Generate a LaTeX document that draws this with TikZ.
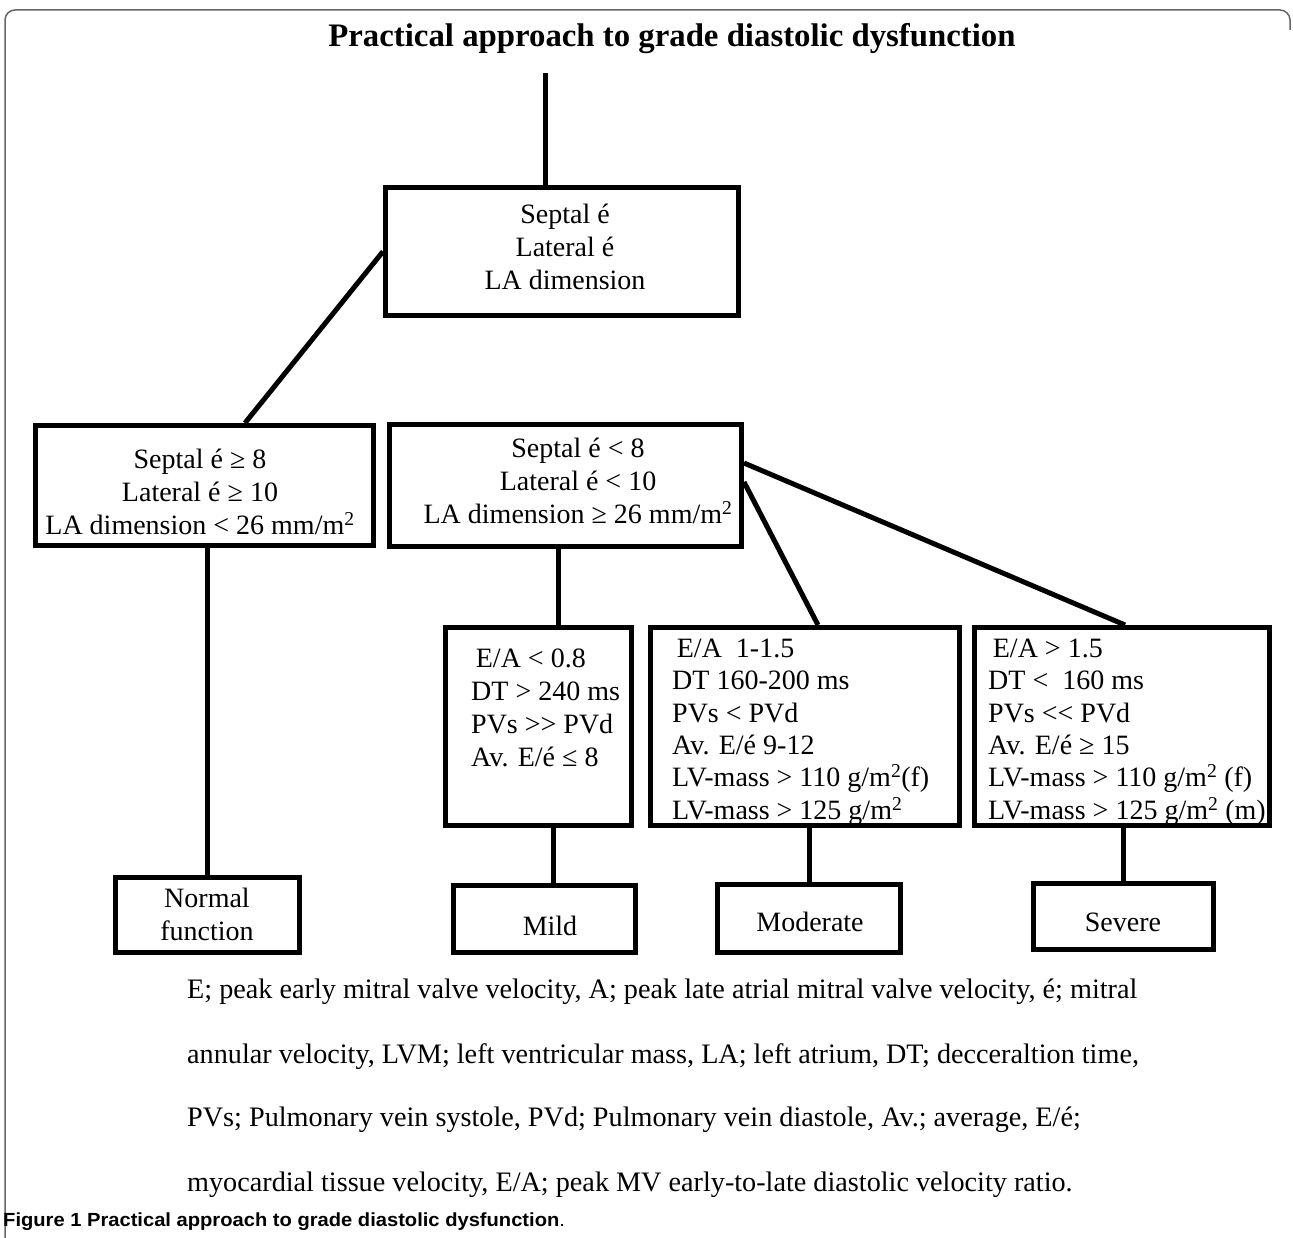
\documentclass[tikz,border=0pt]{standalone}
\usepackage{fontspec}
\setmainfont{Liberation Serif}
\newfontfamily\capfont{Liberation Sans}
\begin{document}
\begin{tikzpicture}[x=1pt,y=-1pt,
  box/.style={draw=black, line width=5pt, fill=none, inner sep=0pt},
  conn/.style={draw=black, line width=5pt},
  txt/.style={inner sep=0pt, font=\fontsize{28}{33}\selectfont},
  ctxt/.style={inner sep=0pt, font=\fontsize{28}{32.4}\selectfont},
  foot/.style={inner sep=0pt, anchor=west, font=\fontsize{28.2}{33}\selectfont},
]
\useasboundingbox[fill=white] (0,0) rectangle (1293,1238);
% frame
\draw[black!60, line width=1.5pt, rounded corners=10pt] (5,1238) -- (5,10) -- (1290,10) -- (1290,30);

% title
\node[inner sep=0pt] (title) at (672,39) {\bfseries\fontsize{32.8}{38}\selectfont Practical approach to grade diastolic dysfunction};

% boxes
\node[box, minimum width=353pt, minimum height=128pt] (top) at (562,251.5) {};
\node[box, minimum width=338pt, minimum height=120pt] (l1) at (204.5,485.5) {};
\node[box, minimum width=352pt, minimum height=122pt] (r1) at (565.5,485.5) {};
\node[box, minimum width=186pt, minimum height=198pt] (c1) at (538.5,726.5) {};
\node[box, minimum width=309pt, minimum height=198pt] (c2) at (805,726.5) {};
\node[box, minimum width=295pt, minimum height=198pt] (c3) at (1122,726.5) {};
\node[box, minimum width=184pt, minimum height=75pt] (normal) at (207.5,915) {};
\node[box, minimum width=182pt, minimum height=67pt] (mild) at (544.5,919) {};
\node[box, minimum width=183pt, minimum height=68pt] (moderate) at (809,918.5) {};
\node[box, minimum width=180pt, minimum height=66pt] (severe) at (1123.5,916.5) {};

% texts
\node[txt, align=center] (topt) at (565,247) {Septal é\\Lateral é\\LA dimension};
\node[txt, align=center] (l1t) at (200,492) {Septal é ≥ 8\\Lateral é ≥ 10\\LA dimension < 26 mm/m\textsuperscript{2}};
\node[txt, align=center] (r1t) at (578,481) {Septal é < 8\\Lateral é < 10\\LA dimension ≥ 26 mm/m\textsuperscript{2}};
\node[txt, align=left, anchor=west] (c1t) at (471,708) {\,E/A < 0.8\\DT > 240 ms\\PVs >{}> PVd\\Av. E/é ≤ 8};
\node[ctxt, align=left, anchor=west] (c2t) at (672,732) {\,E/A \ 1-1.5\\DT 160-200 ms\\PVs < PVd\\Av. E/é 9-12\\LV-mass > 110 g/m\textsuperscript{2}(f)\\LV-mass > 125 g/m\textsuperscript{2}};
\node[ctxt, align=left, anchor=west] (c3t) at (988,732) {\,E/A > 1.5\\DT < \ 160 ms\\PVs <{}< PVd\\Av. E/é ≥ 15\\LV-mass > 110 g/m\textsuperscript{2} (f)\\LV-mass > 125 g/m\textsuperscript{2} (m)};
\node[txt, align=center] (normalt) at (207,914.5) {Normal\\function};
\node[txt] (mildt) at (550,926) {Mild};
\node[txt] (moderatet) at (810,922) {Moderate};
\node[txt] (severet) at (1123,922) {Severe};

% connectors
\coordinate (tstart) at (545,73);
\draw[conn] (tstart) -- (tstart |- top.north);
\draw[conn] (top.west) -- ([xshift=40.5pt]l1.north);
\draw[conn] (l1.south -| normal.north) -- (normal.north);
\draw[conn] ([xshift=-7.5pt]r1.south) -- ([xshift=-7.5pt]r1.south |- c1.north);
\draw[conn] ([yshift=22.5pt]r1.east) -- ([xshift=3pt]c3.north);
\draw[conn] ([yshift=3.5pt]r1.east) -- ([xshift=13pt]c2.north);
\draw[conn] ([xshift=14.5pt]c1.south) -- ([xshift=14.5pt]c1.south |- mild.north);
\draw[conn] (moderate.north |- c2.south) -- (moderate.north);
\draw[conn] (severe.north |- c3.south) -- (severe.north);

% footnote
\node[foot] (f1) at (187,992) {E; peak early mitral valve velocity, A; peak late atrial mitral valve velocity, é; mitral};
\node[foot] (f2) at (187,1057) {annular velocity, LVM; left ventricular mass, LA; left atrium, DT; decceraltion time,};
\node[foot] (f3) at (187,1120) {PVs; Pulmonary vein systole, PVd; Pulmonary vein diastole, Av.; average, E/é;};
\node[foot] (f4) at (187,1185) {myocardial tissue velocity, E/A; peak MV early-to-late diastolic velocity ratio.};

% caption
\node[inner sep=0pt, anchor=west] (cap) at (3,1222) {\scalebox{1.06}[1]{\capfont\fontsize{19}{22}\selectfont\bfseries Figure 1 Practical approach to grade diastolic dysfunction\mdseries.}};
\end{tikzpicture}
\end{document}
